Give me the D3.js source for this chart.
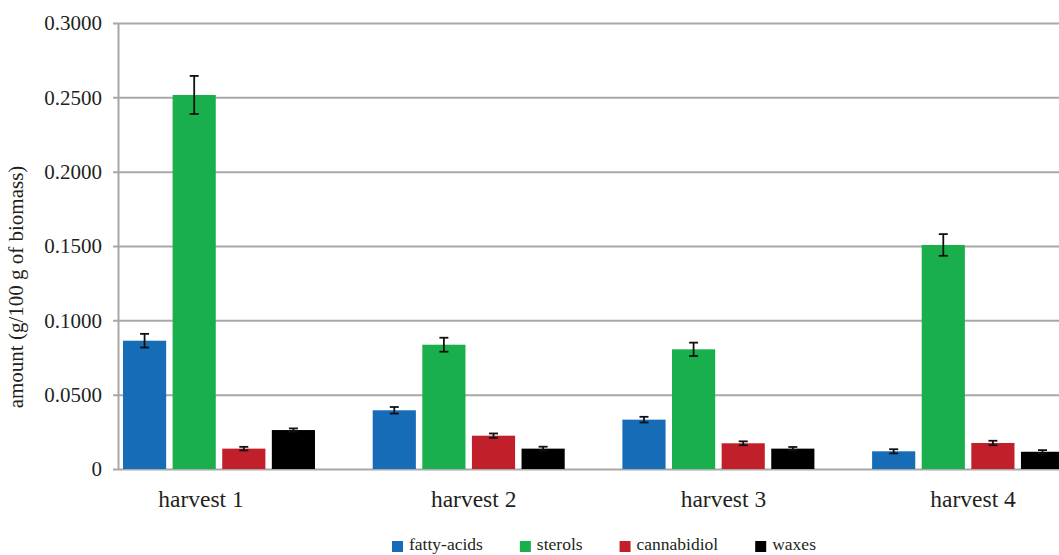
<!DOCTYPE html>
<html>
<head>
<meta charset="utf-8">
<script src="https://cdn.jsdelivr.net/npm/d3@7"></script>
<style>
  html, body { margin: 0; padding: 0; background: #fff; }
  svg { display: block; }
</style>
</head>
<body>
<svg id="chart" width="1059" height="555"></svg>
<script>
// Harvest categories and measured amounts (g/100 g of biomass)
const harvests = ["harvest 1", "harvest 2", "harvest 3", "harvest 4"];
const seriesNames = ["fatty-acids", "sterols", "cannabidiol", "waxes"];

const fattyAcids    = [0.0863, 0.0395, 0.0332, 0.0119];
const sterols       = [0.2516, 0.0836, 0.0805, 0.1507];
const cannabidiol   = [0.0137, 0.0224, 0.0173, 0.0175];
const waxes         = [0.0262, 0.0137, 0.0137, 0.0116];

// Standard deviations shown as error bars
const fattyAcidsErr  = [0.0046, 0.0022, 0.0019, 0.0014];
const sterolsErr     = [0.0128, 0.0047, 0.0045, 0.0073];
const cannabidiolErr = [0.0012, 0.0015, 0.0013, 0.0015];
const waxesErr       = [0.0011, 0.0013, 0.0011, 0.0011];

const yTickValues = [0, 0.05, 0.10, 0.15, 0.20, 0.25, 0.30];

const colors = ["#176cb7", "#1aaf4d", "#c1202a", "#000000"];

const values = [fattyAcids, sterols, cannabidiol, waxes];
const errors = [fattyAcidsErr, sterolsErr, cannabidiolErr, waxesErr];

const rows = [];
seriesNames.forEach((s, si) => {
  harvests.forEach((h, hi) => {
    rows.push({ series: s, harvest: h, value: values[si][hi], err: errors[si][hi], color: colors[si] });
  });
});

const svg = d3.select("#chart");
const serif = "'Liberation Serif', 'Times New Roman', serif";
const textColor = "#231f20";
const gridColor = "#a8a8a8";

const plotLeft = 119, plotTop = 23, plotBottom = 469;
const groupPitch = 249.7;

const y = d3.scaleLinear().domain([0, 0.3]).range([plotBottom, plotTop]);
const x0 = d3.scaleBand().domain(harvests)
  .range([plotLeft, plotLeft + groupPitch * harvests.length]).padding(0);
const x1 = d3.scaleBand().domain(seriesNames).range([4, 196]).paddingInner(0.13).paddingOuter(0);

// Horizontal gridlines with short ticks past the axis
const yAxis = d3.axisLeft(y).tickValues(yTickValues)
  .tickSize(-(1059 - plotLeft + 10))
  .tickFormat(d => d === 0 ? "0" : d3.format(".4f")(d))
  .tickPadding(10);

const gAxis = svg.append("g")
  .attr("transform", `translate(${plotLeft},0)`)
  .call(yAxis);
gAxis.select(".domain").remove();
gAxis.selectAll(".tick line")
  .attr("x1", -6)
  .attr("stroke", gridColor)
  .attr("stroke-width", 2);
gAxis.selectAll(".tick text")
  .attr("x", -17)
  .attr("font-family", serif)
  .attr("font-size", 21)
  .attr("fill", textColor);

// Vertical axis line
svg.append("line")
  .attr("x1", plotLeft - 0.5).attr("x2", plotLeft - 0.5)
  .attr("y1", y(0.3)).attr("y2", y(0))
  .attr("stroke", gridColor).attr("stroke-width", 2);

// Bars
const bars = svg.append("g");
bars.selectAll("rect").data(rows).join("rect")
  .attr("x", d => x0(d.harvest) + x1(d.series))
  .attr("width", x1.bandwidth())
  .attr("y", d => y(d.value))
  .attr("height", d => y(0) - y(d.value))
  .attr("fill", d => d.color);

// Error bars
const eb = svg.append("g").attr("stroke", "#111").attr("stroke-width", 1.8);
rows.forEach(d => {
  const cx = x0(d.harvest) + x1(d.series) + x1.bandwidth() / 2;
  const top = y(d.value + d.err), bot = y(d.value - d.err);
  eb.append("line").attr("x1", cx).attr("x2", cx).attr("y1", top).attr("y2", bot);
  eb.append("line").attr("x1", cx - 4.5).attr("x2", cx + 4.5).attr("y1", top).attr("y2", top);
  eb.append("line").attr("x1", cx - 4.5).attr("x2", cx + 4.5).attr("y1", bot).attr("y2", bot);
});

// Category labels
const labelShift = [82, 105, 105, 105];
svg.append("g").selectAll("text").data(harvests).join("text")
  .attr("x", (d, i) => x0(d) + labelShift[i])
  .attr("y", 507)
  .attr("text-anchor", "middle")
  .attr("font-family", serif)
  .attr("font-size", 23.5)
  .attr("fill", textColor)
  .text(d => d);

// Y axis title
svg.append("text")
  .attr("transform", "translate(23,287) rotate(-90)")
  .attr("text-anchor", "middle")
  .attr("font-family", serif)
  .attr("font-size", 21)
  .attr("fill", textColor)
  .text("amount (g/100 g of biomass)");

// Legend
const legend = svg.append("g");
let lx = 392;
seriesNames.forEach((s, i) => {
  legend.append("rect")
    .attr("x", lx).attr("y", 541).attr("width", 11).attr("height", 11)
    .attr("fill", colors[i]);
  const t = legend.append("text")
    .attr("x", lx + 17).attr("y", 550)
    .attr("font-family", serif)
    .attr("font-size", 17.5)
    .attr("fill", textColor)
    .text(s);
  lx += 17 + t.node().getComputedTextLength() + 37;
});
</script>
</body>
</html>
